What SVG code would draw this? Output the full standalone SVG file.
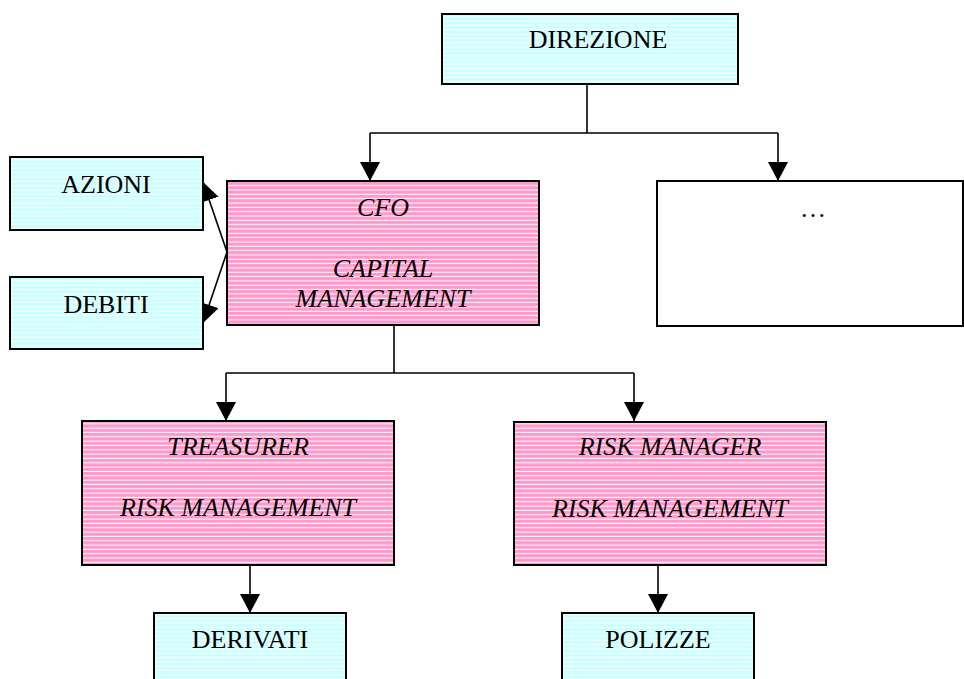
<svg xmlns="http://www.w3.org/2000/svg" width="964" height="679" viewBox="0 0 964 679">
  <defs>
    <!-- horizontal pinstripe fills -->
    <pattern id="stripeCyan" patternUnits="userSpaceOnUse" width="8" height="4.33">
      <rect width="8" height="4.33" fill="#ccffff"/>
      <rect y="3.3" width="8" height="1" fill="#ffffff"/>
    </pattern>
    <pattern id="stripePink" patternUnits="userSpaceOnUse" width="8" height="4.33">
      <rect width="8" height="4.33" fill="#ff99cc"/>
      <rect y="3.3" width="8" height="1" fill="#ffffff"/>
    </pattern>
    <marker id="arrow" markerUnits="userSpaceOnUse" markerWidth="20" markerHeight="20" refX="19" refY="10" orient="auto">
      <path d="M0,0 L19,10 L0,20 z" fill="#000"/>
    </marker>
  </defs>
  <style>
    .box { stroke: #000; stroke-width: 2; }
    .cyan { fill: url(#stripeCyan); }
    .pink { fill: url(#stripePink); }
    .plain { fill: #fff; }
    .lbl { font-family: "Liberation Serif", "Times New Roman", serif; font-size: 26px; fill: #000; text-anchor: middle; }
    .it { font-style: italic; }
    .conn { fill: none; stroke: #000; stroke-width: 1.6; }
  </style>

  <rect width="964" height="679" fill="#fff"/>

  <g id="connectors">
    <!-- DIREZIONE to first level -->
    <path class="conn" d="M587,84 V133"/>
    <path class="conn" d="M370,133 H778"/>
    <path class="conn" d="M370,133 V181" marker-end="url(#arrow)"/>
    <path class="conn" d="M778,133 V181" marker-end="url(#arrow)"/>
    <!-- CFO side branches -->
    <path class="conn" d="M227,252 L203,182" marker-end="url(#arrow)"/>
    <path class="conn" d="M227,252 L203,323" marker-end="url(#arrow)"/>
    <!-- CFO to second level -->
    <path class="conn" d="M394,325 V373"/>
    <path class="conn" d="M226,373 H634"/>
    <path class="conn" d="M226,373 V421" marker-end="url(#arrow)"/>
    <path class="conn" d="M634,373 V421" marker-end="url(#arrow)"/>
    <!-- second level to instruments -->
    <path class="conn" d="M250,565 V613" marker-end="url(#arrow)"/>
    <path class="conn" d="M658,565 V613" marker-end="url(#arrow)"/>
  </g>

  <g id="direzione">
    <rect class="box cyan" x="442" y="14" width="296" height="70"/>
    <text class="lbl" x="598" y="48">DIREZIONE</text>
  </g>

  <g id="azioni">
    <rect class="box cyan" x="10" y="157" width="193" height="73"/>
    <text class="lbl" x="106" y="193">AZIONI</text>
  </g>

  <g id="debiti">
    <rect class="box cyan" x="10" y="277" width="193" height="72"/>
    <text class="lbl" x="106" y="313">DEBITI</text>
  </g>

  <g id="cfo">
    <rect class="box pink" x="227" y="181" width="312" height="144"/>
    <text class="lbl it" x="383" y="216">CFO</text>
    <text class="lbl it" x="383" y="277">CAPITAL</text>
    <text class="lbl it" x="383" y="307">MANAGEMENT</text>
  </g>

  <g id="altro">
    <rect class="box plain" x="657" y="181" width="306" height="145"/>
    <text class="lbl" x="813" y="217">…</text>
  </g>

  <g id="treasurer">
    <rect class="box pink" x="82" y="421" width="312" height="144"/>
    <text class="lbl it" x="238" y="455">TREASURER</text>
    <text class="lbl it" x="238" y="516">RISK MANAGEMENT</text>
  </g>

  <g id="risk-manager">
    <rect class="box pink" x="514" y="422" width="312" height="143"/>
    <text class="lbl it" x="670" y="455">RISK MANAGER</text>
    <text class="lbl it" x="670" y="517">RISK MANAGEMENT</text>
  </g>

  <g id="derivati">
    <rect class="box cyan" x="154" y="613" width="192" height="70"/>
    <text class="lbl" x="250" y="648">DERIVATI</text>
  </g>

  <g id="polizze">
    <rect class="box cyan" x="562" y="613" width="192" height="70"/>
    <text class="lbl" x="658" y="648">POLIZZE</text>
  </g>
</svg>
